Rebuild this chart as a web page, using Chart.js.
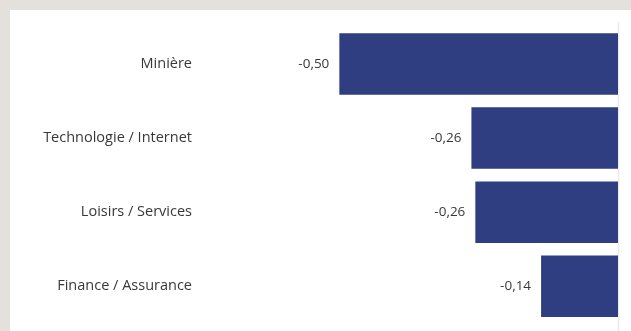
<!DOCTYPE html>
<html lang="fr">
<head>
<meta charset="utf-8">
<script src="https://cdn.jsdelivr.net/npm/chart.js@4.4.0/dist/chart.umd.min.js"></script>
<style>
  html, body { margin: 0; padding: 0; background: #e4e0dc; width: 631px; height: 331px; overflow: hidden; }
  #panel { position: absolute; left: 10px; top: 10px; width: 621px; height: 321px; background: #ffffff; overflow: hidden; }
  canvas { display: block; }
</style>
</head>
<body>
<div id="panel"><canvas id="chart" width="621" height="330"></canvas></div>
<script>
// Secteurs et variations
const categories = ['Minière', 'Technologie / Internet', 'Loisirs / Services', 'Finance / Assurance'];
const values = [-0.50, -0.263, -0.256, -0.138];

const fmt = v => v.toFixed(2).replace('.', ',');

// Étiquettes de valeur à gauche de chaque barre + ligne du zéro
const valueLabels = {
  id: 'valueLabels',
  beforeDatasetsDraw(chart) {
    const { ctx, chartArea, scales } = chart;
    const x0 = Math.round(scales.x.getPixelForValue(0)) + 0.5;
    ctx.save();
    ctx.strokeStyle = '#ebebeb';
    ctx.lineWidth = 1.5;
    ctx.beginPath();
    ctx.moveTo(x0, chartArea.top - 5);
    ctx.lineTo(x0, chart.height);
    ctx.stroke();
    ctx.restore();
  },
  afterDatasetsDraw(chart) {
    const { ctx } = chart;
    const meta = chart.getDatasetMeta(0);
    ctx.save();
    ctx.fillStyle = '#383838';
    ctx.font = '13.5px "Open Sans", sans-serif';
    ctx.textAlign = 'right';
    ctx.textBaseline = 'middle';
    meta.data.forEach((bar, i) => {
      ctx.fillText(fmt(values[i]), bar.x - 10, bar.y);
    });
    ctx.restore();
  }
};

new Chart(document.getElementById('chart'), {
  type: 'bar',
  data: {
    labels: categories,
    datasets: [{
      data: values,
      backgroundColor: '#2f3e80',
      borderWidth: 0,
      categoryPercentage: 1,
      barPercentage: 0.83
    }]
  },
  options: {
    indexAxis: 'y',
    responsive: false,
    animation: false,
    layout: { padding: { top: 17, bottom: 7, right: 13, left: 0 } },
    plugins: { legend: { display: false }, tooltip: { enabled: false } },
    scales: {
      x: {
        display: false,
        min: -0.75,
        max: 0
      },
      y: {
        afterFit(scale) { scale.width = 190; },
        grid: { display: false, drawTicks: false },
        border: { display: false },
        ticks: {
          color: '#383838',
          padding: 8,
          font: { family: '"Open Sans", sans-serif', size: 14.5 }
        }
      }
    }
  },
  plugins: [valueLabels]
});
</script>
</body>
</html>
